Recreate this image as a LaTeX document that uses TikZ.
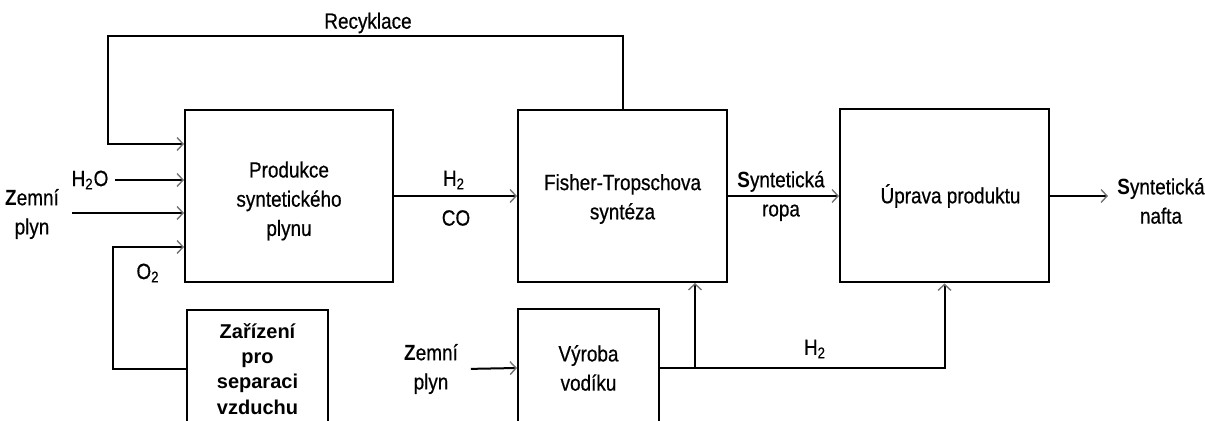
\documentclass[tikz,border=0pt]{standalone}
\usepackage{fontspec}
\setmainfont{Liberation Sans}[FakeStretch=0.86, UprightFeatures={FakeBold=0.6}]
\newfontfamily\widefont{Liberation Sans}
\usetikzlibrary{arrows.meta}
\tikzset{
	blok/.style={draw, line width=1pt, align=center, inner sep=0pt},
	tok/.style={line width=1pt, -{Straight Barb[length=3pt,width=6.5pt,line width=0.7pt,color=black!55]}},
	popis/.style={align=center, font=\fontsize{11}{14.6}\selectfont},
}

\begin{document}
\begin{tikzpicture}[x=0.5pt, y=-0.5pt]
			%%%%% START %%%%%
			\useasboundingbox (0,0) rectangle (1205,421);
			\clip (0,0) rectangle (1205,421);
			
			\node[blok, minimum width=104pt, minimum height=86pt, label={[popis, yshift=-2.5pt]center:Produkce\\syntetického\\plynu}] (prod) at (289,196) {};
			\node[blok, minimum width=104.5pt, minimum height=86pt, label={[popis, yshift=-1.5pt]center:Fisher-Tropschova\\syntéza}] (ft) at (622.5,196) {};
			\node[blok, minimum width=104.5pt, minimum height=86.5pt, label={[popis, xshift=3pt]center:Úprava produktu}] (uprava) at (944.5,196) {};
			\node[blok, minimum width=70.5pt, minimum height=59pt, font=\widefont\bfseries\fontsize{10}{12.6}\selectfont] (zariz) at (257.5,369) {Zařízení\\pro\\separaci\\vzduchu};
			\node[blok, popis, minimum width=70.5pt, minimum height=59pt] (vyroba) at (588.5,368) {Výroba\\vodíku};
			
			\node[popis] (recyklace) at (368,23) {Recyklace};
			\node[popis] (h2o) at (90,180) {H\textsubscript{2}O};
			\node[popis] (zp1) at (32,214) {{\bfseries Z}emní\\plyn};
			\node[popis] (o2) at (148,273) {O\textsubscript{2}};
			\node[popis] (h2a) at (454,180) {H\textsubscript{2}};
			\node[popis] (co) at (456,218) {CO};
			\node[popis] (ropa) at (781,196) {{\bfseries S}yntetická\\ropa};
			\node[popis] (nafta) at (1161,201) {{\bfseries S}yntetická\\nafta};
			\node[popis] (zp2) at (431,369) {{\bfseries Z}emní\\plyn};
			\node[popis] (h2b) at (815,349) {H\textsubscript{2}};
			
			\coordinate (rec) at (108,36);
			\coordinate (yrec) at (0,144);
			\coordinate (o2c) at (113,247);
			\coordinate (zpc) at (0,213);
			\coordinate (naftac) at (1108,196);
			\coordinate (odboc) at (695,368);
			
			\draw[tok] (ft.north) |- (rec) |- (prod.west |- yrec);
			\draw[tok] (h2o.east) -- (h2o.east -| prod.west);
			\draw[tok, shorten <=3pt] (zp1.east |- zpc) -- (prod.west |- zpc);
			\draw[tok] (zariz.west) -| (o2c) -- (o2c -| prod.west);
			
			\draw[tok] (prod.east) -- (ft.west);
			\draw[tok] (ft.east) -- (uprava.west);
			\draw[tok] (uprava.east) -- (naftac);
			
			\draw[tok, shorten <=3pt] (zp2.east) -- (vyroba.west);
			\draw[tok] (vyroba.east) -| (uprava.south);
			\draw[tok] (odboc) -- (odboc |- ft.south);
			
			%%%%% END %%%%%
\end{tikzpicture}
\end{document}
